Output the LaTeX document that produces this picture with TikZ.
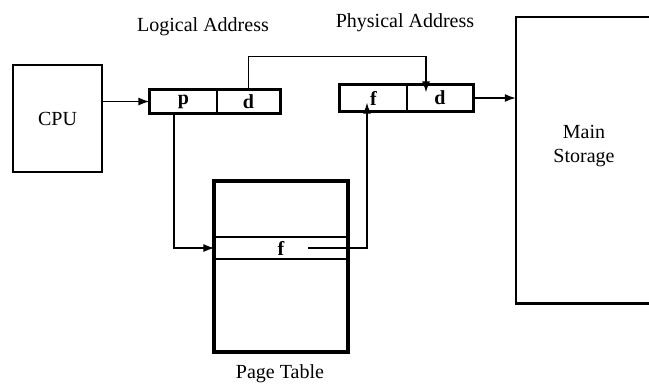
\documentclass[tikz,border=0pt]{standalone}
\usepackage{fontspec}
\setmainfont{Liberation Serif}
\usetikzlibrary{arrows.meta,calc}
\begin{document}
\begin{tikzpicture}[x=1pt,y=-1pt,
  every node/.style={font=\fontsize{20}{24}\selectfont, inner sep=0pt},
  letter/.style={font=\fontsize{20}{24}\selectfont\bfseries},
  box/.style={draw, line width=2.6pt, rectangle},
  cell/.style={draw, line width=1.2pt, rectangle, minimum height=23pt, minimum width=67pt, letter},
  conn/.style={line width=1.4pt},
  arr/.style={conn, -{Latex[length=11pt,width=8pt]}},
  lbl/.style={}
]
\useasboundingbox (0,0) rectangle (649,384);

% CPU
\node[box, minimum width=89pt, minimum height=107pt] (cpu) at (57.5,118.5) {CPU};

% Logical address register
\node[cell] (lp) at (183.5,101.5) {p};
\node[cell, minimum width=63pt] (ld) at (248.5,101.5) {d};
\draw[line width=2.6pt] (lp.north west) rectangle (ld.south east);
\node[lbl] (lal) at (203,27) {Logical Address};

% Physical address register
\node[cell, minimum height=26pt] (pf) at (373.5,98) {f};
\node[cell, minimum height=26pt, minimum width=66pt] (pd) at (440,98) {d};
\draw[line width=2.6pt] (pf.north west) rectangle (pd.south east);
\node[lbl] (pal) at (405,23) {Physical Address};

% Page table
\node[box, minimum width=132pt, minimum height=169pt] (pt) at (281,266.5) {};
\node[draw, line width=1.2pt, minimum width=132pt, minimum height=22pt, letter] (row) at (281,248) {f};
\draw[line width=2.6pt] (pt.north west) rectangle (pt.south east);
\node[lbl] (ptl) at (280,374) {Page Table};

% Main storage (right side open)
\node[minimum width=133pt, minimum height=286pt] (ms) at (582.5,160) {};
\draw[line width=2.6pt] (ms.north east) -- (ms.north west) -- (ms.south west) -- (ms.south east);
\node[align=center] (msl) at (584,146) {Main\\Storage};

% Connectors
\draw[arr] (cpu.east |- lp.west) -- (lp.west);
\draw[arr] ([xshift=-9.5pt]lp.south) |- (row.west);
\draw[arr] (ld.north) -- ++(0,-33) -| ([xshift=-14pt,yshift=-8pt]pd.north);
\draw[arr] ([xshift=27pt]row.center) -| ([xshift=-6.5pt,yshift=9pt]pf.south);
\draw[arr] (pd.east) -- (pd.east -| ms.west);
\end{tikzpicture}
\end{document}
